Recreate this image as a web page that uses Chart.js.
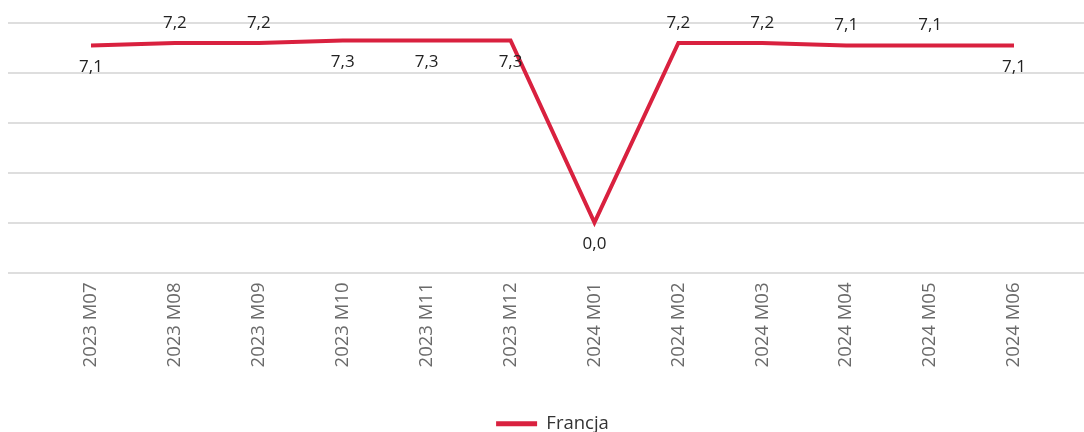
<!DOCTYPE html>
<html>
<head>
<meta charset="utf-8">
<script src="https://cdn.jsdelivr.net/npm/chart.js@4"></script>
<style>
    body { margin: 0; background: #fff; }
    #wrap { width: 1084px; height: 432px; position: relative; }
</style>
</head>
<body>
<div id="wrap"><canvas id="chart"></canvas></div>
<script>
const months = ['2023 M07', '2023 M08', '2023 M09', '2023 M10', '2023 M11', '2023 M12',
    '2024 M01', '2024 M02', '2024 M03', '2024 M04', '2024 M05', '2024 M06'];
const francja = [7.1, 7.2, 7.2, 7.3, 7.3, 7.3, 0.0, 7.2, 7.2, 7.1, 7.1, 7.1];
const seriesName = 'Francja';

// where each value label sits relative to its point
const labelAbove = [false, true, true, false, false, false, false, true, true, true, true, false];

const lineColor = '#d9213f';

// horizontal grid that runs the full width, like the original
const fullGrid = {
    id: 'fullGrid',
    beforeDatasetsDraw(chart){
        const ctx = chart.ctx;
        const y = chart.scales.y;
        ctx.save();
        ctx.strokeStyle = '#dedede';
        ctx.lineWidth = 2;
        y.ticks.forEach(t => {
            const py = Math.round(y.getPixelForValue(t.value));
            ctx.beginPath();
            ctx.moveTo(8, py);
            ctx.lineTo(1084, py);
            ctx.stroke();
        });
        ctx.restore();
    }
};

const valueLabels = {
    id: 'valueLabels',
    afterDatasetsDraw(chart){
        const ctx = chart.ctx;
        const meta = chart.getDatasetMeta(0);
        ctx.save();
        ctx.font = '17px "Open Sans"';
        ctx.fillStyle = '#222';
        ctx.textAlign = 'center';
        ctx.textBaseline = 'middle';
        meta.data.forEach((pt, i) => {
            const txt = francja[i].toFixed(1).replace('.', ',');
            const dy = labelAbove[i] ? -20 : 22;
            ctx.fillText(txt, pt.x, pt.y + dy);
        });
        ctx.restore();
    }
};

new Chart(document.getElementById('chart'), {
    type: 'line',
    data: {
        labels: months,
        datasets: [{
            label: seriesName,
            data: francja,
            borderColor: lineColor,
            backgroundColor: lineColor,
            borderWidth: 4,
            pointRadius: 0,
            tension: 0
        }]
    },
    options: {
        responsive: true,
        maintainAspectRatio: false,
        animation: false,
        layout: { padding: { left: 91, right: 70, top: 23, bottom: -11 } },
        scales: {
            x: {
                offset: false,
                grid: { display: false },
                border: { display: false },
                afterFit(scale){ scale.height = 142; },
                ticks: {
                    maxRotation: 90,
                    minRotation: 90,
                    padding: 2,
                    color: '#6a6a6a',
                    font: { family: 'Open Sans', size: 18.5 }
                }
            },
            y: {
                display: false,
                min: -2,
                max: 8,
                ticks: { stepSize: 2 }
            }
        },
        plugins: {
            legend: {
                position: 'bottom',
                labels: {
                    boxWidth: 41,
                    boxHeight: 5,
                    color: '#333',
                    padding: 0,
                    font: { family: 'Open Sans', size: 18.5, lineHeight: 1 },
                    generateLabels(chart){
                        const items = Chart.defaults.plugins.legend.labels.generateLabels(chart);
                        items.forEach(it => { it.lineWidth = 0; });
                        return items;
                    }
                }
            },
            tooltip: { enabled: false }
        }
    },
    plugins: [fullGrid, valueLabels]
});
</script>
</body>
</html>
